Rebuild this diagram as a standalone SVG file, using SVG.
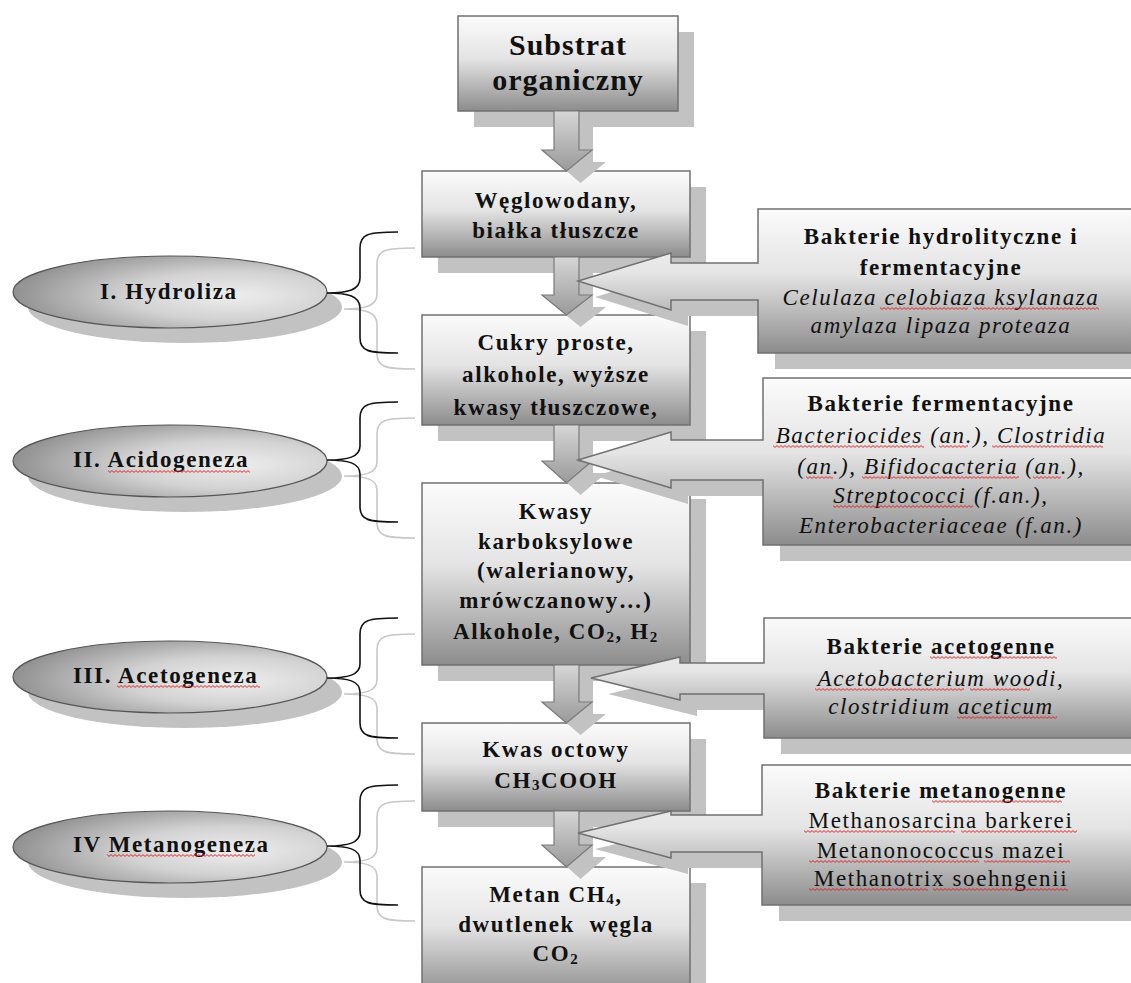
<svg xmlns="http://www.w3.org/2000/svg" width="1131" height="983" viewBox="0 0 1131 983">
<defs>
<linearGradient id="gBox" x1="0" y1="0" x2="0" y2="1">
<stop offset="0" stop-color="#fbfbfb"/><stop offset="0.45" stop-color="#e4e4e4"/><stop offset="1" stop-color="#8c8c8c"/>
</linearGradient>
<linearGradient id="gArr" x1="0" y1="0" x2="0" y2="1">
<stop offset="0" stop-color="#d6d6d6"/><stop offset="1" stop-color="#9a9a9a"/>
</linearGradient>
<radialGradient id="gEll" cx="0.7" cy="0.55" r="0.75">
<stop offset="0" stop-color="#eeeeee"/><stop offset="0.45" stop-color="#d2d2d2"/><stop offset="1" stop-color="#888888"/>
</radialGradient>
<pattern id="wv" width="4" height="3" patternUnits="userSpaceOnUse">
<path d="M0,0.6 L2,2.4 L4,0.6" fill="none" stroke="#e01818" stroke-width="0.9"/>
</pattern>
<style>
.sh{fill:#c2c2c2}
.box{fill:url(#gBox);stroke:#707070;stroke-width:1.5}
.arr{fill:url(#gArr);stroke:#7a7a7a;stroke-width:1.2}
.ell{fill:url(#gEll);stroke:#555;stroke-width:1.2}
.br{fill:none;stroke:#111;stroke-width:1.6}
.brs{fill:none;stroke:#c8c8c8;stroke-width:1.6}
.wv{fill:url(#wv)}
text{font-family:"Liberation Serif","Times New Roman",serif;font-size:23px;fill:#111;letter-spacing:1.6px}
.c{text-anchor:middle}
.b{font-weight:bold}
.i{font-style:italic}
.big{font-size:30px;letter-spacing:1px}
.sub{font-size:15px}
</style>
</defs>
<rect width="1131" height="983" fill="#ffffff"/>

<!-- left phase ellipses -->
<g id="phase1">
<ellipse class="sh" cx="185" cy="307" rx="157" ry="36"/>
<ellipse class="ell" cx="170" cy="292" rx="157" ry="36"/>
<text class="b" x="100" y="299">I. Hydroliza</text>
</g>
<g id="phase2">
<ellipse class="sh" cx="185" cy="476" rx="157" ry="36"/>
<ellipse class="ell" cx="170" cy="461" rx="157" ry="36"/>
<text class="b" x="73" y="467">II. Acidogeneza</text>
<rect class="wv" width="142" height="3" transform="translate(108,470)"/>
</g>
<g id="phase3">
<ellipse class="sh" cx="185" cy="692" rx="157" ry="36"/>
<ellipse class="ell" cx="170" cy="677" rx="157" ry="36"/>
<text class="b" x="73" y="683">III. Acetogeneza</text>
<rect class="wv" width="143" height="3" transform="translate(117,685)"/>
</g>
<g id="phase4">
<ellipse class="sh" cx="185" cy="862" rx="157" ry="36"/>
<ellipse class="ell" cx="170" cy="847" rx="157" ry="36"/>
<text class="b" x="73" y="852">IV Metanogeneza</text>
<rect class="wv" width="148" height="3" transform="translate(107,854)"/>
</g>

<!-- main box shadows -->
<g id="box-shadows">
<rect class="sh" x="474" y="32" width="220" height="95"/>
<rect class="sh" x="438" y="187" width="268" height="86"/>
<rect class="sh" x="438" y="331" width="268" height="110"/>
<rect class="sh" x="438" y="499" width="268" height="182"/>
<rect class="sh" x="438" y="739" width="268" height="88"/>
<rect class="sh" x="438" y="883" width="268" height="120"/>
</g>

<g id="substrat">
<rect class="box" x="458" y="16" width="220" height="95"/>
<text class="b c big" x="568" y="55">Substrat</text>
<text class="b c big" x="568" y="90">organiczny</text>
</g>
<g id="weglowodany">
<rect class="box" x="422" y="171" width="268" height="86"/>
<text class="b c" x="556" y="208">Węglowodany,</text>
<text class="b c" x="556" y="238">białka tłuszcze</text>
</g>
<g id="cukry">
<rect class="box" x="422" y="315" width="268" height="110"/>
<text class="b c" x="556" y="350">Cukry proste,</text>
<text class="b c" x="556" y="382">alkohole, wyższe</text>
<text class="b c" x="556" y="415">kwasy tłuszczowe,</text>
</g>
<g id="kwasy">
<rect class="box" x="422" y="483" width="268" height="182"/>
<text class="b c" x="556" y="519">Kwasy</text>
<text class="b c" x="556" y="549">karboksylowe</text>
<text class="b c" x="556" y="578">(walerianowy,</text>
<text class="b c" x="556" y="608">mrówczanowy…)</text>
<text class="b c" x="556" y="639">Alkohole, CO<tspan class="sub" dy="3">2</tspan><tspan dy="-3">, H</tspan><tspan class="sub" dy="3">2</tspan></text>
</g>
<g id="octowy">
<rect class="box" x="422" y="723" width="268" height="88"/>
<text class="b c" x="556" y="757">Kwas octowy</text>
<text class="b c" x="556" y="788">CH<tspan class="sub" dy="2">3</tspan><tspan dy="-2">COOH</tspan></text>
</g>
<g id="metan">
<rect class="box" x="422" y="867" width="268" height="130"/>
<text class="b c" x="556" y="902">Metan CH<tspan class="sub" dy="2">4</tspan><tspan dy="-2">,</tspan></text>
<text class="b c" x="556" y="932" style="white-space:pre">dwutlenek  węgla</text>
<text class="b c" x="556" y="961">CO<tspan class="sub" dy="3">2</tspan></text>
</g>

<!-- connectors: flow arrows and braces -->
<g id="connectors">
<g transform="translate(14,12)" class="sh">
<path d="M554,111 H579 V150 H592 L566.5,171 L542,150 H554 Z"/>
<path d="M554,257 H579 V295 H592 L566.5,315 L542,295 H554 Z"/>
<path d="M554,425 H579 V461 H592 L566.5,483 L542,461 H554 Z"/>
<path d="M554,665 H579 V702 H592 L566.5,723 L542,702 H554 Z"/>
<path d="M554,811 H579 V845 H592 L566.5,867 L542,845 H554 Z"/>
</g>
<path class="arr" d="M554,111 H579 V150 H592 L566.5,171 L542,150 H554 Z"/>
<path class="arr" d="M554,257 H579 V295 H592 L566.5,315 L542,295 H554 Z"/>
<path class="arr" d="M554,425 H579 V461 H592 L566.5,483 L542,461 H554 Z"/>
<path class="arr" d="M554,665 H579 V702 H592 L566.5,723 L542,702 H554 Z"/>
<path class="arr" d="M554,811 H579 V845 H592 L566.5,867 L542,845 H554 Z"/>

<g transform="translate(17,16)">
<path class="brs" d="M398,232 C368,232 360,234 360,248 V278 C360,290 348,293 327,293 C348,293 360,296 360,308 V338 C360,351 368,353 398,353"/>
<path class="brs" d="M398,402 C368,402 360,404 360,418 V446 C360,457 348,460 327,460 C348,460 360,463 360,474 V507 C360,520 368,522 398,522"/>
<path class="brs" d="M398,618 C368,618 360,620 360,634 V664 C360,675 348,678 327,678 C348,678 360,681 360,692 V723 C360,736 368,738 398,738"/>
<path class="brs" d="M398,785 C368,785 360,787 360,801 V832 C360,843 348,846 327,846 C348,846 360,849 360,860 V890 C360,903 368,905 398,905"/>
</g>
<path class="br" d="M398,232 C368,232 360,234 360,248 V278 C360,290 348,293 327,293 C348,293 360,296 360,308 V338 C360,351 368,353 398,353"/>
<path class="br" d="M398,402 C368,402 360,404 360,418 V446 C360,457 348,460 327,460 C348,460 360,463 360,474 V507 C360,520 368,522 398,522"/>
<path class="br" d="M398,618 C368,618 360,620 360,634 V664 C360,675 348,678 327,678 C348,678 360,681 360,692 V723 C360,736 368,738 398,738"/>
<path class="br" d="M398,785 C368,785 360,787 360,801 V832 C360,843 348,846 327,846 C348,846 360,849 360,860 V890 C360,903 368,905 398,905"/>
</g>

<!-- bacteria callouts -->
<g id="bakterie-hydrolityczne">
<path class="sh" transform="translate(17,16)" d="M758,209 H1140 V353 H758 V300 H671 V310 L578,281 L671,253 V263 H758 Z"/>
<path class="box" d="M758,209 H1140 V353 H758 V300 H671 V310 L578,281 L671,253 V263 H758 Z"/>
<text class="b c" x="941" y="244">Bakterie hydrolityczne i</text>
<text class="b c" x="941" y="275">fermentacyjne</text>
<text class="i c" x="941" y="305">Celulaza celobiaza ksylanaza</text>
<text class="i c" x="941" y="333">amylaza lipaza proteaza</text>
<rect class="wv" width="88" height="3" transform="translate(880,307)"/>
<rect class="wv" width="126" height="3" transform="translate(973,307)"/>
</g>
<g id="bakterie-fermentacyjne">
<path class="sh" transform="translate(17,16)" d="M763,378 H1140 V545 H763 V480 H671 V488 L578,460 L671,432 V440 H763 Z"/>
<path class="box" d="M763,378 H1140 V545 H763 V480 H671 V488 L578,460 L671,432 V440 H763 Z"/>
<text class="b c" x="941" y="411">Bakterie fermentacyjne</text>
<text class="i c" x="941" y="443">Bacteriocides (an.), Clostridia</text>
<text class="i c" x="941" y="474">(an.), Bifidocacteria (an.),</text>
<text class="i c" x="941" y="503">Streptococci (f.an.),</text>
<text class="i c" x="941" y="533">Enterobacteriaceae (f.an.)</text>
<rect class="wv" width="151" height="3" transform="translate(773,445)"/>
<rect class="wv" width="29" height="3" transform="translate(939,445)"/>
<rect class="wv" width="111" height="3" transform="translate(992,445)"/>
<rect class="wv" width="27" height="3" transform="translate(806,476)"/>
<rect class="wv" width="157" height="3" transform="translate(862,476)"/>
<rect class="wv" width="28" height="3" transform="translate(1033,476)"/>
<rect class="wv" width="140" height="3" transform="translate(833,505)"/>
</g>
<g id="bakterie-acetogenne">
<path class="sh" transform="translate(17,16)" d="M764,618 H1140 V738 H764 V694 H680 V700 L591,678 L680,657 V663 H764 Z"/>
<path class="box" d="M764,618 H1140 V738 H764 V694 H680 V700 L591,678 L680,657 V663 H764 Z"/>
<text class="b c" x="941" y="654">Bakterie acetogenne</text>
<text class="i c" x="941" y="686">Acetobacterium woodi,</text>
<text class="i c" x="941" y="714">clostridium aceticum</text>
<rect class="wv" width="127" height="3" transform="translate(930,656)"/>
<rect class="wv" width="149" height="3" transform="translate(815,688)"/>
<rect class="wv" width="60" height="3" transform="translate(970,688)"/>
<rect class="wv" width="100" height="3" transform="translate(957,716)"/>
</g>
<g id="bakterie-metanogenne">
<path class="sh" transform="translate(17,16)" d="M762,765 H1140 V905 H762 V852 H671 V858 L578,833 L671,811 V815 H762 Z"/>
<path class="box" d="M762,765 H1140 V905 H762 V852 H671 V858 L578,833 L671,811 V815 H762 Z"/>
<text class="b c" x="941" y="798">Bakterie metanogenne</text>
<text class="c" x="941" y="828">Methanosarcina barkerei</text>
<text class="c" x="941" y="858">Metanonococcus mazei</text>
<text class="c" x="941" y="886">Methanotrix soehngenii</text>
<rect class="wv" width="130" height="3" transform="translate(932,800)"/>
<rect class="wv" width="151" height="3" transform="translate(804,830)"/>
<rect class="wv" width="116" height="3" transform="translate(961,830)"/>
<rect class="wv" width="170" height="3" transform="translate(809,860)"/>
<rect class="wv" width="86" height="3" transform="translate(984,860)"/>
<rect class="wv" width="119" height="3" transform="translate(809,888)"/>
<rect class="wv" width="135" height="3" transform="translate(933,888)"/>
</g>
</svg>
